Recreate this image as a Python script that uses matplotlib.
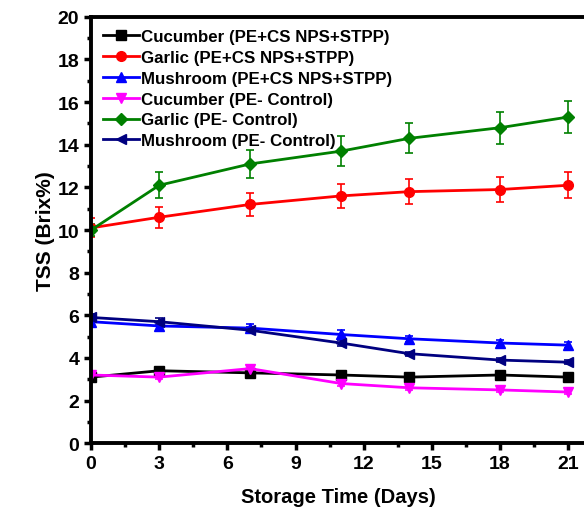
import numpy as np
import matplotlib.pyplot as plt
from matplotlib.ticker import MultipleLocator
from matplotlib.lines import Line2D

plt.rcParams['font.family'] = ['Liberation Sans', 'DejaVu Sans']
plt.rcParams['font.weight'] = 'bold'

days = [0, 3, 7, 11, 14, 18, 21]

cuc_np = [3.1, 3.4, 3.3, 3.2, 3.1, 3.2, 3.1]
cuc_np_err = [0.1, 0.1, 0.1, 0.1, 0.1, 0.1, 0.1]
gar_np = [10.1, 10.6, 11.2, 11.6, 11.8, 11.9, 12.1]
gar_np_err = [0.45, 0.5, 0.55, 0.55, 0.6, 0.6, 0.6]
mush_np = [5.7, 5.5, 5.4, 5.1, 4.9, 4.7, 4.6]
mush_np_err = [0.2, 0.2, 0.2, 0.2, 0.15, 0.15, 0.15]
cuc_ct = [3.2, 3.1, 3.5, 2.8, 2.6, 2.5, 2.4]
cuc_ct_err = [0.1, 0.1, 0.1, 0.1, 0.1, 0.1, 0.1]
gar_ct = [10.0, 12.1, 13.1, 13.7, 14.3, 14.8, 15.3]
gar_ct_err = [0.3, 0.6, 0.65, 0.7, 0.7, 0.75, 0.75]
mush_ct = [5.9, 5.7, 5.3, 4.7, 4.2, 3.9, 3.8]
mush_ct_err = [0.15, 0.15, 0.15, 0.15, 0.1, 0.1, 0.1]

series = [
    (cuc_np, cuc_np_err, 'Cucumber (PE+CS NPS+STPP)', 'black', 's'),
    (gar_np, gar_np_err, 'Garlic (PE+CS NPS+STPP)', 'red', 'o'),
    (mush_np, mush_np_err, 'Mushroom (PE+CS NPS+STPP)', 'blue', '^'),
    (cuc_ct, cuc_ct_err, 'Cucumber (PE- Control)', 'magenta', 'v'),
    (gar_ct, gar_ct_err, 'Garlic (PE- Control)', 'green', 'D'),
    (mush_ct, mush_ct_err, 'Mushroom (PE- Control)', 'navy', '<'),
]

fig = plt.figure(figsize=(5.84, 5.10), dpi=100)
ax = fig.add_axes([0.156, 0.129, 0.846, 0.836])

handles = []
for vals, err, label, color, marker in series:
    ms = 6 if marker == 'D' else 7
    ax.errorbar(days, vals, yerr=err, color=color, marker=marker, markersize=ms,
                linewidth=2, elinewidth=1.2, capsize=3, capthick=1.2)
    handles.append(Line2D([], [], color=color, marker=marker, markersize=ms,
                          linewidth=2, label=label))

ax.set_xlim(0, 21.75)
ax.set_ylim(0, 20)
ax.xaxis.set_major_locator(MultipleLocator(3))
ax.xaxis.set_minor_locator(MultipleLocator(1.5))
ax.yaxis.set_major_locator(MultipleLocator(2))
ax.yaxis.set_minor_locator(MultipleLocator(1))
ax.tick_params(which='major', direction='out', length=5, width=2.5, labelsize=14)
ax.tick_params(which='minor', direction='out', length=3, width=2.5)
for sp in ax.spines.values():
    sp.set_linewidth(2.8)

ax.set_xlabel('Storage Time (Days)', fontsize=14.5, fontweight='bold', labelpad=11)
ax.set_ylabel('TSS (Brix%)', fontsize=15, fontweight='bold', labelpad=2)

ax.legend(handles=handles, loc='upper left', frameon=False, fontsize=12.2,
          handlelength=2.1, handletextpad=0.15, labelspacing=0.35,
          borderaxespad=0.3, bbox_to_anchor=(0.0, 1.0))

plt.savefig('out.png', dpi=100)
